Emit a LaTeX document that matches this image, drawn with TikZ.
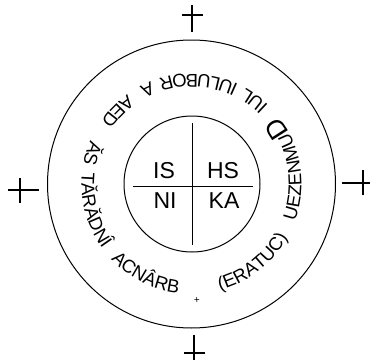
\documentclass[tikz,border=0pt]{standalone}
\usepackage{fontspec}
\usepackage{tikz}
\usetikzlibrary{decorations.text}
\newfontfamily\helv{Liberation Sans}
\newcommand\ringfont{\helv\fontsize{18.5}{20}\selectfont}
\newcommand\ringbig{\helv\fontsize{27}{29}\selectfont}
\tikzset{
  rim/.style     ={circle, draw, line width=1pt, inner sep=0pt},
  divider/.style ={line width=0.9pt},
  regline/.style ={line width=1.2pt},
  quad/.style    ={font=\helv\fontsize{23}{25}\selectfont, inner sep=0pt, anchor=base},
  ringtext/.style={decorate, decoration={text along path,
                   text/.expanded={|\noexpand\ringfont|#1}, text align=center}}
}
\begin{document}
\begin{tikzpicture}[x=1pt,y=1pt]
\useasboundingbox (0,0) rectangle (370,360);
\coordinate (c) at (191.5,176);
\node[rim, minimum size=288pt] (outer) at (c) {};
\node[rim, minimum size=136pt] (inner) at (192,176) {};
% quadrants
\draw[divider] ([yshift=61pt]inner.center) -- ([yshift=-61pt]inner.center);
\draw[divider] ([shift={(-59,-2)}]inner.center) -- ([shift={(61,-2)}]inner.center);
\node[quad] (is) at ([shift={(-28,6)}]inner.center) {IS};
\node[quad] (hs) at ([shift={(31,6)}]inner.center) {HS};
\node[quad] (ni) at ([shift={(-27,-24)}]inner.center) {NI};
\node[quad] (ka) at ([shift={(32,-24)}]inner.center) {KA};
% writing round the ring, one word per arc (centre angle/word)
\foreach \mid/\word [evaluate=\mid as \from using \mid-45,
                     evaluate=\mid as \to using \mid+45]
  in {243/ACNÂRB, 308/(ERATUC), 53/IUL, 86/IULUBOR, 115/A, 135.5/AED,
      163/ĂS, 195/TĂRĂDNÎ}
  \path[ringtext=\word] (c) ++(\from:110) arc[start angle=\from, end angle=\to, radius=110];
\path[decorate, decoration={text along path, text={|\ringfont|UEZENMU|\ringbig|D},
  text align=center}] (c) ++(-36:110) arc[start angle=-36, end angle=54, radius=110];
\node[font=\helv\fontsize{10}{10}\selectfont, inner sep=0pt, rotate=3] (plus)
  at ([shift={(5.5,-116)}]c) {+};
% register marks
\coordinate (ctop) at (192,345);
\coordinate (cleft) at (20,170);
\coordinate (cright) at (363,177);
\coordinate (cbot) at (194,7);
\draw[regline] ([yshift=10pt]ctop) -- ([yshift=-17pt]ctop)
  ([xshift=-10pt]ctop) -- ([xshift=11pt]ctop);
\draw[regline] ([xshift=-12pt]cleft) -- ([xshift=19pt]cleft)
  ([yshift=12pt]cleft) -- ([yshift=-13pt]cleft);
\draw[regline] ([xshift=-21pt]cright) -- ([xshift=7pt]cright)
  ([yshift=13pt]cright) -- ([yshift=-12pt]cright);
\draw[regline] ([yshift=18pt]cbot) -- ([yshift=-7pt]cbot)
  ([xshift=-10pt]cbot) -- ([xshift=11pt]cbot);
\end{tikzpicture}
\end{document}
